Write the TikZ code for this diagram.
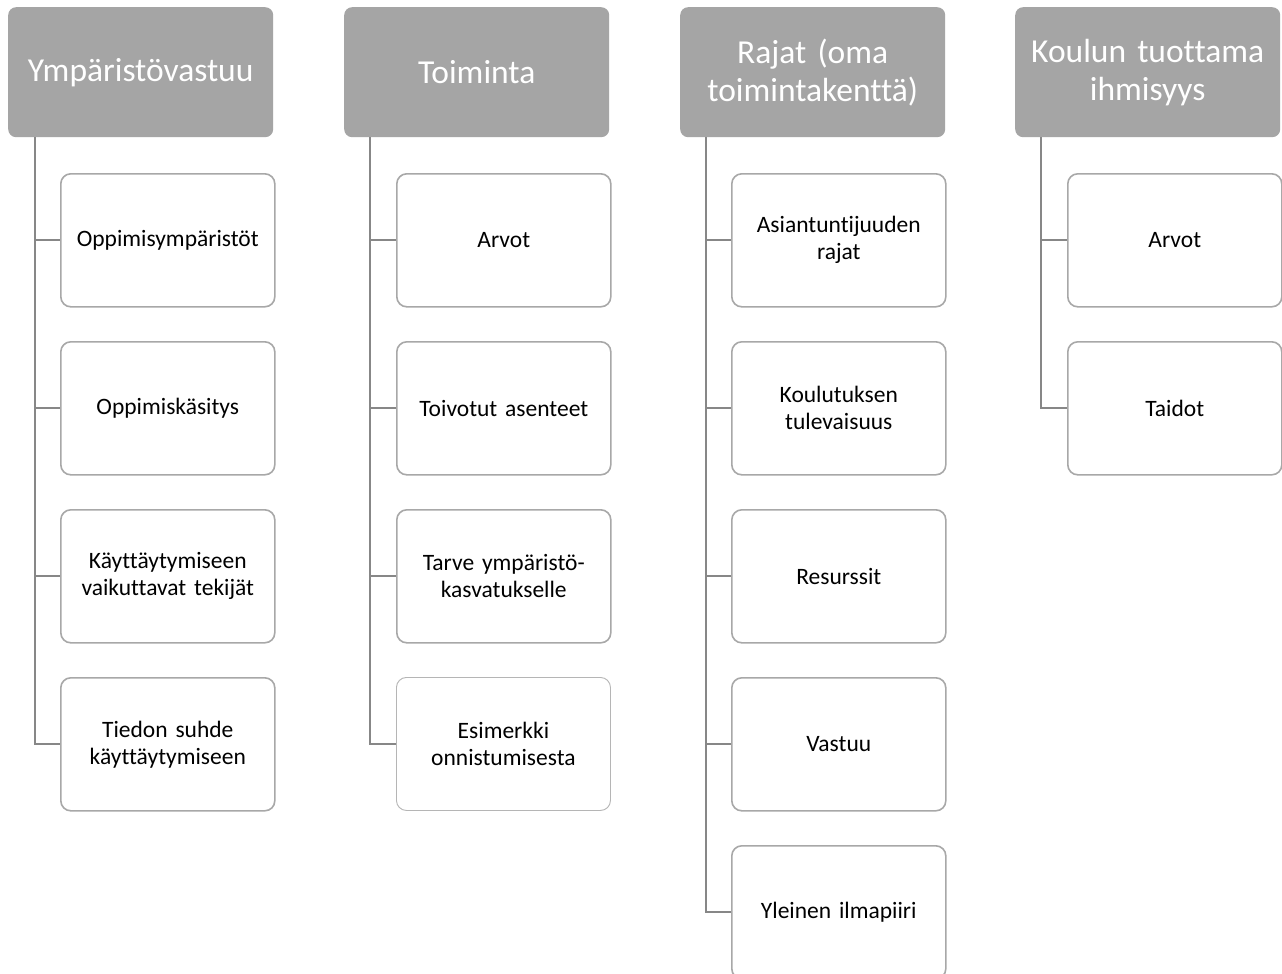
\documentclass[tikz,border=0pt]{standalone}
\usepackage{fontspec}
\setmainfont{Carlito}[Ligatures=NoCommon]
\usetikzlibrary{calc}
\definecolor{hdrfill}{HTML}{A5A5A5}
\definecolor{conncol}{HTML}{878787}
\definecolor{boxcol}{HTML}{A8A8A8}
\tikzset{
  hdr/.style={draw=none, fill=hdrfill, rounded corners=8pt, minimum width=265pt, minimum height=130pt,
    text=white, align=center, text width=260pt, font=\fontsize{33.5}{38}\selectfont, anchor=north west, inner sep=0pt},
  child/.style={draw=boxcol, line width=1.6pt, fill=white, rounded corners=10pt, minimum width=214pt, minimum height=133pt,
    align=center, text width=210pt, font=\fontsize{23.5}{27}\selectfont, anchor=north west, inner sep=0pt},
  thinchild/.style={child, line width=0.9pt, draw=boxcol!85},
  conn/.style={draw=conncol, line width=1.8pt}
}
\begin{document}
\begin{tikzpicture}[x=1pt,y=-1pt]
\useasboundingbox (0,0) rectangle (1282,974);
\fill[white] (0,0) rectangle (1282,974);
% headers
\node[hdr] (h1) at (8,7) {Ympäristövastuu};
\node[hdr] (h2) at (344,7) {Toiminta};
\node[hdr] (h3) at (680,7) {Rajat (oma\\toimintakenttä)};
\node[hdr] (h4) at (1015,7) {Koulun tuottama\\ihmisyys};
% trunk tops
\coordinate (t1) at ($(h1.south west)+(27,0)$);
\coordinate (t2) at ($(h2.south west)+(26,0)$);
\coordinate (t3) at ($(h3.south west)+(26,0)$);
\coordinate (t4) at ($(h4.south west)+(26,0)$);
% column 1
\node[child] (c11) at (60,173) {Oppimisympäristöt};
\node[child] (c12) at (60,341) {Oppimiskäsitys};
\node[child] (c13) at (60,509) {Käyttäytymiseen\\vaikuttavat tekijät};
\node[child] (c14) at (60,677) {Tiedon suhde\\käyttäytymiseen};
% column 2
\node[child] (c21) at (396,173) {Arvot};
\node[child] (c22) at (396,341) {Toivotut asenteet};
\node[child] (c23) at (396,509) {Tarve ympäristö-\\kasvatukselle};
\node[thinchild] (c24) at (396,677) {Esimerkki\\onnistumisesta};
% column 3
\node[child] (c31) at (731,173) {Asiantuntijuuden\\rajat};
\node[child] (c32) at (731,341) {Koulutuksen\\tulevaisuus};
\node[child] (c33) at (731,509) {Resurssit};
\node[child] (c34) at (731,677) {Vastuu};
\node[child] (c35) at (731,845) {Yleinen ilmapiiri};
% column 4
\node[child] (c41) at (1067,173) {Arvot};
\node[child] (c42) at (1067,341) {Taidot};
% connectors
\foreach \c in {c11,c12,c13,c14} \draw[conn] (t1) |- (\c.west);
\foreach \c in {c21,c22,c23,c24} \draw[conn] (t2) |- (\c.west);
\foreach \c in {c31,c32,c33,c34,c35} \draw[conn] (t3) |- (\c.west);
\foreach \c in {c41,c42} \draw[conn] (t4) |- (\c.west);
\end{tikzpicture}
\end{document}
